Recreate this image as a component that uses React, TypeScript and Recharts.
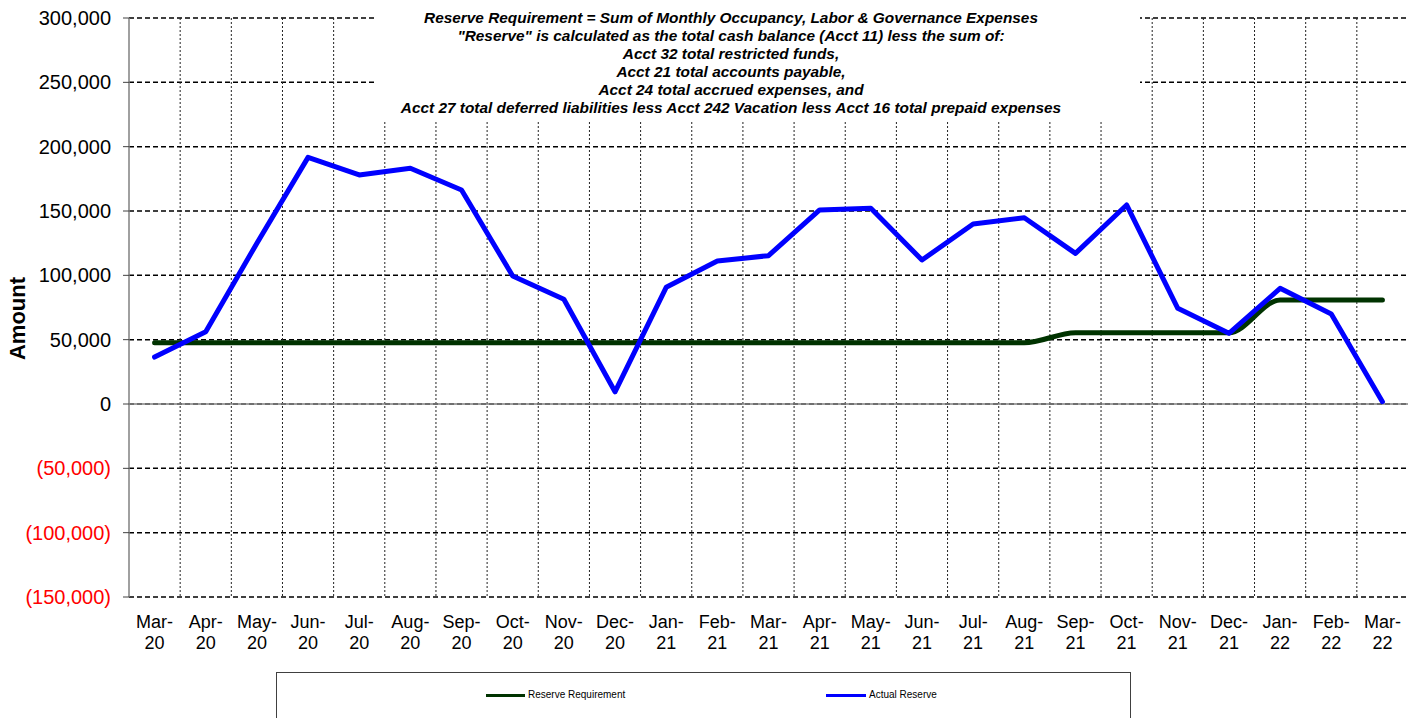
import React from "react";
import {
  ComposedChart,
  Line,
  XAxis,
  YAxis,
  CartesianGrid,
  ReferenceLine,
} from "recharts";

const months = [
  "Mar-20", "Apr-20", "May-20", "Jun-20", "Jul-20", "Aug-20", "Sep-20", "Oct-20",
  "Nov-20", "Dec-20", "Jan-21", "Feb-21", "Mar-21", "Apr-21", "May-21", "Jun-21",
  "Jul-21", "Aug-21", "Sep-21", "Oct-21", "Nov-21", "Dec-21", "Jan-22", "Feb-22", "Mar-22",
];

const reserveRequirement = [
  47600, 47600, 47600, 47600, 47600, 47600, 47600, 47600, 47600, 47600,
  47600, 47600, 47600, 47600, 47600, 47600, 47600, 47600,
  55400, 55400, 55400, 55400,
  80800, 80800, 80800,
];

const actualReserve = [
  36500, 56200, 125000, 191700, 178000, 183200, 166300, 99500, 81400, 9500,
  90700, 111100, 115300, 150800, 152100, 111900, 139900, 144800, 117100, 154700,
  74400, 54900, 89900, 69900, 1800,
];

const yTicks = [-150000, -100000, -50000, 0, 50000, 100000, 150000, 200000, 250000, 300000];

const seriesNames = { requirement: "Reserve Requirement", actual: "Actual Reserve" };

const noteLines = [
  "Reserve Requirement = Sum of Monthly Occupancy, Labor & Governance Expenses",
  "\"Reserve\" is calculated as the total cash balance (Acct 11) less the sum of:",
  "Acct 32 total restricted funds,",
  "Acct 21 total accounts payable,",
  "Acct 24 total accrued expenses, and",
  "Acct 27 total deferred liabilities less Acct 242 Vacation less Acct 16 total prepaid expenses",
];

const data = months.map((m, i) => ({
  month: m,
  requirement: reserveRequirement[i],
  actual: actualReserve[i],
}));

const FONT = "'Liberation Sans', Arial, sans-serif";

function YTick({ x, y, payload }: any) {
  const v = payload.value as number;
  const txt = v < 0 ? `(${Math.abs(v).toLocaleString("en-US")})` : v.toLocaleString("en-US");
  return (
    <text x={x} y={y} dy={7} textAnchor="end" fontSize={20} fontFamily={FONT} fill={v < 0 ? "#FF0000" : "#000"}>
      {txt}
    </text>
  );
}

function XTick({ x, y, payload }: any) {
  const [mon, yr] = String(payload.value).split("-");
  return (
    <text x={x} y={y} textAnchor="middle" fontSize={18} fontFamily={FONT} fill="#000">
      <tspan x={x} dy={31}>{mon}-</tspan>
      <tspan x={x} dy={21}>{yr}</tspan>
    </text>
  );
}

function AmountLabel({ viewBox }: any) {
  const cx = viewBox.x + 8;
  const cy = viewBox.y + viewBox.height / 2 + 11;
  return (
    <text
      transform={`translate(${cx},${cy}) rotate(-90)`}
      dy={8}
      textAnchor="middle"
      fontSize={22}
      fontWeight="bold"
      fontFamily={FONT}
      fill="#000"
    >
      Amount
    </text>
  );
}

export default function App() {
  return (
    <div style={{ position: "absolute", left: 0, top: 0, width: 1416, height: 718, background: "#fff", overflow: "hidden" }}>
      <ComposedChart width={1416} height={718} data={data} margin={{ top: 18, right: 8, left: 9, bottom: 61 }}>
        <CartesianGrid vertical={false} stroke="#000" strokeWidth={1.5} strokeDasharray="5 3" />
        <CartesianGrid
          horizontal={false}
          stroke="#222"
          strokeWidth={1}
          strokeDasharray="2 2"
          verticalCoordinatesGenerator={({ offset }: any) =>
            months.slice(1).map((_, i) => offset.left + ((i + 1) * offset.width) / months.length)
          }
        />
        <XAxis
          dataKey="month"
          scale="band"
          interval={0}
          height={60}
          axisLine={false}
          tickLine={false}
          tickSize={0}
          tickMargin={0}
          tick={<XTick />}
        />
        <YAxis
          width={120}
          domain={[-150000, 300000]}
          ticks={yTicks}
          interval={0}
          axisLine={{ stroke: "#808080", strokeWidth: 1.5 }}
          tickLine={{ stroke: "#404040", strokeWidth: 1 }}
          tickSize={6}
          tickMargin={12}
          tick={<YTick />}
          label={{ position: "insideLeft", content: <AmountLabel /> }}
        />
        <ReferenceLine y={0} stroke="#808080" strokeWidth={1.5} />
        <Line
          type="monotone"
          dataKey="requirement"
          name={seriesNames.requirement}
          stroke="#003300"
          strokeWidth={5}
          dot={false}
          strokeLinejoin="round"
          strokeLinecap="round"
          isAnimationActive={false}
        />
        <Line
          type="linear"
          dataKey="actual"
          name={seriesNames.actual}
          stroke="#0000FF"
          strokeWidth={5}
          dot={false}
          strokeLinejoin="round"
          strokeLinecap="round"
          isAnimationActive={false}
        />
      </ComposedChart>

      <div style={{ position: "absolute", left: 375, top: 5, width: 765, height: 116, background: "#fff" }}>
        <div
          style={{
            position: "absolute",
            left: 0,
            top: 4,
            width: 712,
            textAlign: "center",
            fontFamily: FONT,
            fontWeight: "bold",
            fontStyle: "italic",
            fontSize: 15.4,
            lineHeight: "18px",
            color: "#000",
            whiteSpace: "nowrap",
          }}
        >
          {noteLines.map((l) => (
            <div key={l}>{l}</div>
          ))}
        </div>
      </div>

      <div
        style={{
          position: "absolute",
          left: 276,
          top: 672,
          width: 855,
          height: 60,
          border: "1px solid #404040",
          background: "#fff",
          boxSizing: "border-box",
          fontFamily: FONT,
          fontSize: 10,
          color: "#000",
        }}
      >
        <div style={{ position: "absolute", left: 209, top: 21, width: 39, height: 3, background: "#003300" }} />
        <div style={{ position: "absolute", left: 251, top: 16 }}>{seriesNames.requirement}</div>
        <div style={{ position: "absolute", left: 549, top: 21, width: 40, height: 3, background: "#0000FF" }} />
        <div style={{ position: "absolute", left: 592, top: 16 }}>{seriesNames.actual}</div>
      </div>
    </div>
  );
}
